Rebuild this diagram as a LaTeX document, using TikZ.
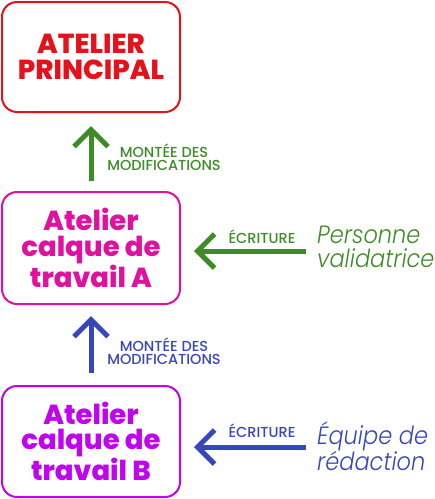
\documentclass[tikz,border=0pt]{standalone}
\usepackage{fontspec}
\setmainfont{Poppins}
\newfontfamily\boxfont{Poppins ExtraBold}
\newfontfamily\lblfont{Poppins Medium}
\newfontfamily\whofont{Poppins Light Italic}[FakeStretch=0.9]
\usetikzlibrary{arrows.meta}
\definecolor{cred}{HTML}{E5121B}
\definecolor{cmag}{HTML}{E0119E}
\definecolor{cpur}{HTML}{C004EE}
\definecolor{cgrn}{HTML}{3E8C28}
\definecolor{cblu}{HTML}{3847B8}
\tikzset{
  box/.style={draw, line width=2pt, rounded corners=15pt, minimum width=178pt, align=center,
    font=\fontsize{27.5}{25.5}\boxfont, inner sep=0pt},
  bigarrow/.style={line width=5pt, -{Straight Barb[length=17pt,width=34pt]}},
  lbl/.style={font=\fontsize{14.5}{13}\lblfont, align=center, inner sep=0pt},
  who/.style={font=\fontsize{25}{23.5}\whofont, align=left, anchor=north west, inner sep=0pt},
}
\begin{document}
\begin{tikzpicture}[x=1pt,y=-1pt]
\useasboundingbox (0,0) rectangle (435,499);
\node[box, draw=cred, text=cred, minimum height=110pt] (main) at (91,57) {ATELIER\\PRINCIPAL};
\node[box, draw=cmag, text=cmag, minimum height=112pt] (wa) at (91,248) {Atelier\\calque de\\travail A};
\node[box, draw=cpur, text=cpur, minimum height=111pt] (wb) at (91,441.5) {Atelier\\calque de\\travail B};
% vertical arrows
\draw[bigarrow, cgrn, shorten <=10pt, shorten >=13pt] (wa.north) -- (main.south);
\draw[bigarrow, cblu, shorten <=12pt, shorten >=11pt] (wb.north) -- (wa.south);
\node[lbl, text=cgrn] (l1) at (164,157) {MONTÉE DES\\MODIFICATIONS};
\node[lbl, text=cblu] (l2) at (164,351) {MONTÉE DES\\MODIFICATIONS};
% people
\node[who, text=cgrn] (pv) at (317,226) {Personne\\validatrice};
\node[who, text=cblu] (eq) at (317,421) {Équipe de\\rédaction};
\coordinate (pva) at (306,251);
\coordinate (eqa) at (306,447);
\draw[bigarrow, cgrn, shorten >=13pt] (pva) -- (pva -| wa.east);
\draw[bigarrow, cblu, shorten >=13pt] (eqa) -- (eqa -| wb.east);
\node[lbl, text=cgrn] (l3) at (262,237) {ÉCRITURE};
\node[lbl, text=cblu] (l4) at (262,431) {ÉCRITURE};
\end{tikzpicture}
\end{document}
